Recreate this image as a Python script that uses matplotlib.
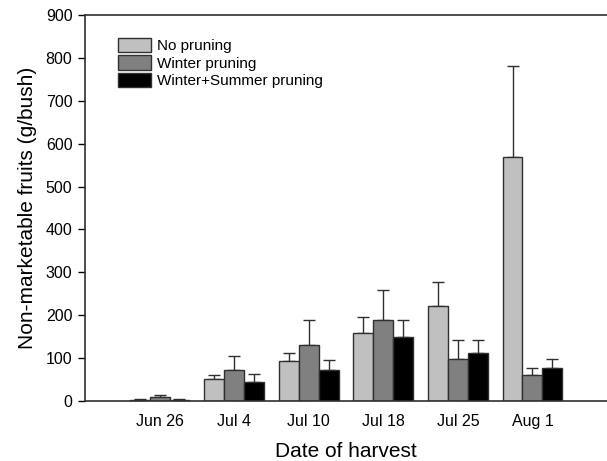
import numpy as np
import matplotlib
matplotlib.use('Agg')
from matplotlib import pyplot as plt

dates = ['Jun 26', 'Jul 4', 'Jul 10', 'Jul 18', 'Jul 25', 'Aug 1']
no_pruning = [3, 52, 93, 158, 222, 568]
no_pruning_err = [2, 8, 19, 39, 56, 214]
winter = [10, 72, 131, 190, 97, 60]
winter_err = [4, 33, 57, 68, 45, 18]
winter_summer = [3, 45, 73, 150, 112, 77]
winter_summer_err = [2, 17, 23, 40, 30, 20]

series = [
    ('No pruning', no_pruning, no_pruning_err, '#c0c0c0'),
    ('Winter pruning', winter, winter_err, '#808080'),
    ('Winter+Summer pruning', winter_summer, winter_summer_err, '#000000'),
]

plt.rcParams['font.family'] = ['Liberation Sans', 'DejaVu Sans']

fig = plt.figure(figsize=(6.07, 4.61), dpi=100)
ax = fig.add_axes([0.140, 0.130, 0.860, 0.8375])

x = np.arange(len(dates))
w = 0.267
for i, (name, vals, err, col) in enumerate(series):
    pos = x + (i - 1) * w
    ax.bar(pos, vals, width=w, color=col, edgecolor='#303030', linewidth=1.0,
           label=name, zorder=2)
    ax.errorbar(pos, vals, yerr=[np.zeros(len(err)), err], fmt='none',
                ecolor='#303030', elinewidth=1.0, capsize=4, capthick=1.0, zorder=1)

ax.set_xlim(-1, 6)
ax.set_ylim(0, 900)
ax.set_yticks(range(0, 901, 100))
ax.set_xticks(x)
ax.set_xticklabels(dates)
ax.tick_params(axis='x', length=0, pad=9, labelsize=11.5)
ax.tick_params(axis='y', direction='out', length=5, width=1, labelsize=11.5, pad=4)

for s in ['left', 'top', 'bottom']:
    ax.spines[s].set_color('#303030')
    ax.spines[s].set_linewidth(1.2)
ax.spines['right'].set_visible(False)

ax.set_xlabel('Date of harvest', fontsize=15, labelpad=10)
ax.set_ylabel('Non-marketable fruits (g/bush)', fontsize=15, labelpad=6)

ax.legend(loc='upper left', bbox_to_anchor=(0.063, 0.94), frameon=False,
          fontsize=11, handlelength=2.2, handleheight=1.05, handletextpad=0.35,
          labelspacing=0.13, borderaxespad=0, borderpad=0)

plt.savefig('out.png', dpi=100)
